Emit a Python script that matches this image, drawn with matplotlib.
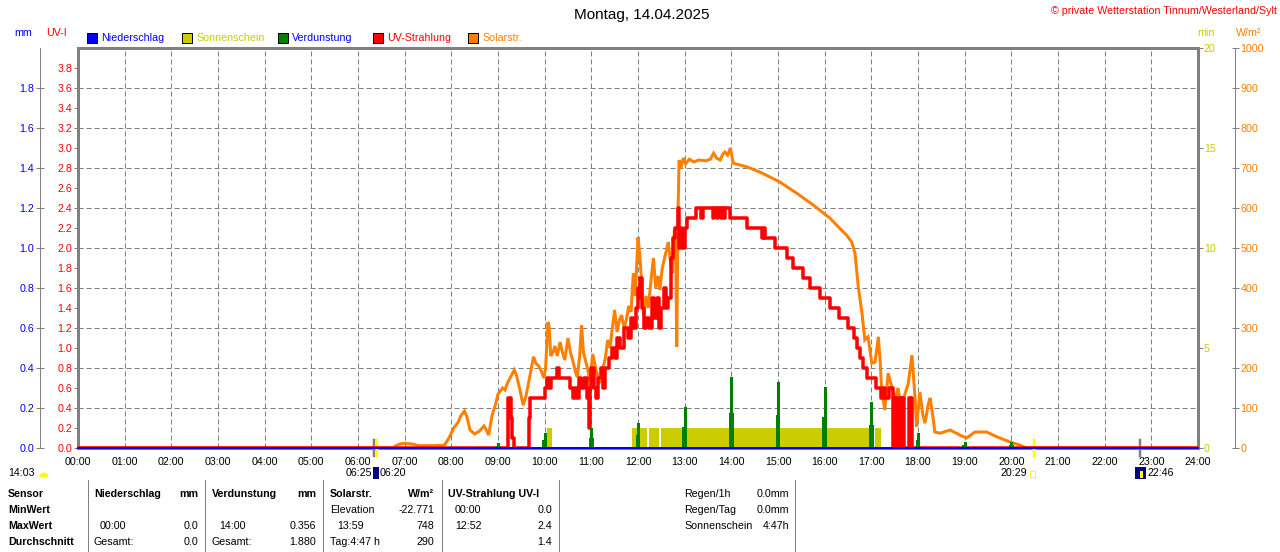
import matplotlib
matplotlib.use('Agg')
import matplotlib.pyplot as plt
from matplotlib.patches import Rectangle, Wedge
from matplotlib.lines import Line2D
from matplotlib.ticker import FixedLocator, FormatStrFormatter

plt.rcParams['font.family'] = ['Liberation Sans', 'DejaVu Sans']
plt.rcParams['lines.scale_dashes'] = False

# ---------------- data ----------------
hours = list(range(0, 25))
hour_labels = ['%02d:00' % h for h in hours]

# UV index (time in hours, UV-I)
uv_t = [0, 9.22, 9.27, 9.31, 9.35, 9.66, 9.69, 10.0, 10.04, 10.1, 10.14, 10.27, 10.31,
        10.55, 10.6, 10.66, 10.7, 10.73, 10.78, 10.85, 10.9, 10.95, 10.97, 11.0, 11.05,
        11.1, 11.15, 11.2, 11.25, 11.3, 11.37, 11.45, 11.5, 11.55, 11.62, 11.7, 11.78,
        11.85, 11.9, 11.95, 12.0, 12.03, 12.05, 12.08, 12.12, 12.18, 12.24, 12.3, 12.34,
        12.4, 12.45, 12.5, 12.55, 12.6, 12.65, 12.7, 12.75, 12.8, 12.85, 12.88, 12.9,
        12.95, 13.0, 13.04, 13.25, 13.35, 13.4, 13.6, 13.62, 13.7, 13.72, 13.78, 13.8,
        13.85, 13.87, 13.97, 14.33, 14.65, 14.7, 14.72, 14.93, 15.19, 15.33, 15.54,
        15.69, 15.9, 16.11, 16.3, 16.5, 16.63, 16.7, 16.75, 16.82, 16.9, 17.1, 17.2,
        17.25, 17.3, 17.38, 17.46, 17.48, 17.5, 17.52, 17.54, 17.56,
        17.6, 17.62, 17.64, 17.66, 17.68, 17.7,
        17.81, 17.83, 17.86, 17.88, 24]
uv_v = [0, 0.5, 0.3, 0.1, 0, 0.3, 0.5, 0.6, 0.7, 0.6, 0.7, 0.8, 0.7,
        0.6, 0.5, 0.6, 0.5, 0.7, 0.6, 0.7, 0.5, 0.2, 0.6, 0.8, 0.6,
        0.5, 0.7, 0.8, 0.6, 0.8, 0.9, 1.0, 0.9, 1.1, 1.0, 1.2, 1.1,
        1.3, 1.2, 1.4, 1.6, 1.5, 1.7, 1.4, 1.2, 1.3, 1.2, 1.5, 1.3,
        1.5, 1.2, 1.4, 1.6, 1.4, 1.5, 1.9, 2.1, 2.2, 2.4, 2.0, 2.2,
        2.0, 2.2, 2.3, 2.4, 2.3, 2.4, 2.3, 2.4, 2.3, 2.4, 2.3, 2.4,
        2.3, 2.4, 2.3, 2.2, 2.1, 2.2, 2.1, 2.0, 1.9, 1.8, 1.7,
        1.6, 1.5, 1.4, 1.3, 1.2, 1.1, 1.0, 0.9, 0.8, 0.7, 0.6, 0.5,
        0.6, 0.5, 0.6, 0.0, 0.5, 0.0, 0.5, 0.0, 0.0,
        0.5, 0.0, 0.5, 0.0, 0.5, 0.0,
        0.5, 0.0, 0.5, 0.0, 0]

# Solar radiation (time in hours, W/m2)
sol_t = [0, 6.75, 6.8, 6.9, 7.0, 7.15, 7.3, 7.6, 7.85, 7.95, 8.05, 8.15, 8.2, 8.28, 8.33,
         8.4, 8.5, 8.6, 8.7, 8.75, 8.8, 8.87, 8.95, 9.0, 9.1, 9.15, 9.2, 9.28, 9.35, 9.4,
         9.47, 9.54, 9.6, 9.65, 9.7, 9.76, 9.82, 9.86, 9.92, 9.98, 10.02, 10.07, 10.1,
         10.13, 10.18, 10.22, 10.27, 10.33, 10.38, 10.43, 10.5, 10.55, 10.61, 10.66, 10.7,
         10.75, 10.79, 10.83, 10.9, 10.97, 11.03, 11.1, 11.19, 11.25, 11.3, 11.35, 11.4,
         11.45, 11.5, 11.55, 11.6, 11.65, 11.7, 11.75, 11.8, 11.85, 11.9, 11.94, 12.0,
         12.04, 12.08, 12.12, 12.17, 12.22, 12.28, 12.33, 12.38, 12.43, 12.47, 12.52,
         12.58, 12.65, 12.7, 12.73, 12.78, 12.81, 12.83, 12.86, 12.88, 12.92, 12.97,
         13.02, 13.1, 13.2, 13.3, 13.45, 13.55, 13.62, 13.68, 13.76, 13.82, 13.86, 13.92,
         13.98, 14.04, 14.33, 14.61, 15.04, 15.4, 15.76, 16.11, 16.3, 16.47, 16.58, 16.65,
         16.72, 16.8, 16.86, 16.93, 17.01, 17.08, 17.15, 17.19, 17.22, 17.29, 17.36, 17.44,
         17.51, 17.57, 17.65, 17.72, 17.79, 17.87, 17.94, 17.97, 18.04, 18.1, 18.15, 18.22,
         18.26, 18.33, 18.36, 18.47, 18.69, 18.9, 19.04, 19.22, 19.47, 19.69, 19.97, 20.19,
         20.33, 24]
sol_v = [0, 0, 5, 10, 12, 10, 6, 6, 7, 25, 50, 65, 80, 92, 80,
         45, 35, 42, 55, 45, 32, 80, 110, 135, 150, 145, 162, 180, 195, 180,
         145, 107, 130, 160, 190, 228, 210, 207, 195, 175, 200, 315, 300,
         230, 240, 255, 230, 265, 240, 220, 275, 240, 215, 190, 177,
         230, 307, 240, 207, 170, 235, 195, 162, 200, 225, 270, 250,
         300, 345, 290, 320, 332, 300, 320, 355, 340, 437, 380, 527,
         480, 412, 330, 380, 350, 420, 475, 400, 430, 395, 450,
         480, 515, 460, 437, 545, 480, 253, 600, 720, 700, 725,
         710, 722, 715, 720, 718, 722, 737, 725, 720, 735, 740, 732,
         750, 712, 703, 690, 665, 637, 607, 575, 552, 532, 515, 487,
         403, 337, 270, 278, 212, 215, 278, 215, 145, 95, 187, 152,
         120, 150, 95, 135, 160, 232, 120, 53, 140, 85, 62, 110,
         125, 70, 40, 37, 45, 32, 25, 40, 40, 28, 15, 7,
         0, 0]

# Sunshine (minutes per minute) intervals
sun_start = [10.05, 11.87, 12.24, 12.49, 17.08]
sun_end = [10.16, 12.19, 12.46, 16.97, 17.21]
sun_value = [1.0, 1.0, 1.0, 1.0, 1.0]

# Evaporation (mm)
verd_t = [9, 10, 11, 12, 13, 14, 15, 16, 17, 18, 19, 20]
verd_v = [0.025, 0.075, 0.10, 0.125, 0.205, 0.356, 0.33, 0.305, 0.23, 0.075, 0.03, 0.03]
verd_low = [0.01, 0.04, 0.05, 0.065, 0.105, 0.175, 0.165, 0.155, 0.115, 0.04, 0.015, 0.015]

# Precipitation (mm)
rain_t = [0, 24]
rain_v = [0.0, 0.0]

# Sun / moon times
sunrise, sunset = 6 + 25/60, 20 + 29/60
moonset, moonrise = 6 + 20/60, 22 + 46/60

uv_ticks = [round(0.2 * i, 1) for i in range(20)]
mm_ticks = [round(0.2 * i, 1) for i in range(10)]
min_ticks = [0, 5, 10, 15, 20]
w_ticks = list(range(0, 1001, 100))

# ---------------- style ----------------
W, H = 1280, 552
GRAY = '#808080'
BLUE = '#0000FF'
RED = '#FF0000'
YEL = '#CCCC00'
ORG = '#FF8000'
GRN = '#008000'
FS = 7.7
PX = 0.72  # points per pixel

fig = plt.figure(figsize=(W / 100, H / 100), dpi=100)
fig.patch.set_facecolor('white')
rect = [78 / W, 104 / H, 1120 / W, 400 / H]

ax_min = fig.add_axes(rect)
ax_w = fig.add_axes(rect, sharex=ax_min)
ax_uv = fig.add_axes(rect, sharex=ax_min)
ax_mm = fig.add_axes(rect, sharex=ax_min)
for a in (ax_w, ax_uv, ax_mm):
    a.patch.set_visible(False)
    for s in a.spines.values():
        s.set_visible(False)
    a.tick_params(axis='x', which='both', bottom=False, labelbottom=False)

ax_min.set_xlim(0, 24)
ax_min.set_ylim(0, 20)
ax_w.set_ylim(0, 1000)
ax_uv.set_ylim(0, 4)
ax_mm.set_ylim(0, 2)

# frame
for s in ax_min.spines.values():
    s.set_color(GRAY)
    s.set_linewidth(3 * PX)

# x axis
ax_min.set_xticks(hours)
ax_min.set_xticklabels(hour_labels, fontsize=FS)
ax_min.tick_params(axis='x', length=0, pad=9 * PX)
ax_min.xaxis.grid(True, color=GRAY, linestyle=(0, (5 * PX, 3 * PX)), linewidth=PX)

# grid horizontal lines (every 2 min == 0.4 UV)
ax_min.yaxis.remove_overlapping_locs = False
ax_min.yaxis.set_minor_locator(FixedLocator(list(range(2, 20, 2))))
ax_min.yaxis.grid(True, which='minor', color=GRAY, linestyle=(0, (5 * PX, 3 * PX)), linewidth=PX)
ax_min.tick_params(axis='y', which='minor', length=0)
ax_min.set_axisbelow(True)

# min axis (right)
ax_min.yaxis.tick_right()
ax_min.set_yticks(min_ticks)
ax_min.tick_params(axis='y', which='major', colors=GRAY, labelcolor=YEL, labelsize=FS,
                   length=5 * PX, width=PX, pad=1 * PX, direction='out')

# W/m2 axis (far right)
ax_w.yaxis.tick_right()
ax_w.spines['right'].set_visible(True)
ax_w.spines['right'].set_position(('outward', 37 * PX))
ax_w.spines['right'].set_color(GRAY)
ax_w.spines['right'].set_linewidth(PX)
ax_w.set_yticks(w_ticks)
ax_w.tick_params(axis='y', colors=GRAY, labelcolor=ORG, labelsize=FS,
                 length=7 * PX, width=PX, pad=2 * PX, direction='inout')

# UV axis (left)
ax_uv.set_yticks(uv_ticks)
ax_uv.yaxis.set_major_formatter(FormatStrFormatter('%.1f'))
ax_uv.tick_params(axis='y', colors=GRAY, labelcolor=RED, labelsize=FS,
                  length=4 * PX, width=PX, pad=2 * PX, direction='out')

# mm axis (far left)
ax_mm.spines['left'].set_visible(True)
ax_mm.spines['left'].set_position(('outward', 38 * PX))
ax_mm.spines['left'].set_color(GRAY)
ax_mm.spines['left'].set_linewidth(PX)
ax_mm.set_yticks(mm_ticks)
ax_mm.yaxis.set_major_formatter(FormatStrFormatter('%.1f'))
ax_mm.tick_params(axis='y', colors=GRAY, labelcolor=BLUE, labelsize=FS,
                  length=8 * PX, width=PX, pad=2 * PX, direction='inout')

# ---------------- data marks ----------------
ax_min.bar(sun_start, sun_value, width=[e - s for s, e in zip(sun_start, sun_end)],
           align='edge', color=YEL, linewidth=0, zorder=2)

ax_w.plot(sol_t, sol_v, color=ORG, linewidth=3 * PX, solid_joinstyle='miter')

ax_uv.plot(uv_t, uv_v, color=RED, linewidth=3.5 * PX, drawstyle='steps-post')

ax_mm.bar(verd_t, verd_low, width=0.1, color=GRN, linewidth=0, zorder=2)
ax_mm.bar([t + 0.01 for t in verd_t], verd_v, width=0.06, color=GRN, linewidth=0, zorder=2)
ax_mm.plot(rain_t, rain_v, color=BLUE, linewidth=2 * PX, clip_on=False, zorder=5)

# sun / moon markers below the axis
for t, c in ((moonset, GRAY), (sunrise, '#FFFF00'), (sunset, '#FFFF00'), (moonrise, GRAY)):
    ax_min.plot([t, t], [-0.4, 0.4], color=c, linewidth=2.5 * PX, clip_on=False, zorder=6)

# ---------------- texts ----------------
T = fig.dpi_scale_trans


def P(x, y):
    return (x / 100, (H - y) / 100)


def txt(x, y, s, ha='left', color='black', size=FS, weight='normal'):
    fig.text(*P(x, y), s, transform=T, ha=ha, va='center', color=color,
             fontsize=size, fontweight=weight)


txt(642, 15, 'Montag, 14.04.2025', ha='center', size=11)
txt(1277, 11, '© private Wetterstation Tinnum/Westerland/Sylt', ha='right', color=RED)
txt(14, 33, 'mm', color=BLUE)
txt(46, 33, 'UV-I', color=RED)
txt(1206, 33, 'min', ha='center', color=YEL)
txt(1249, 33, 'W/m²', ha='center', color=ORG)

legend = [(87, BLUE, 'Niederschlag', BLUE), (182, YEL, 'Sonnenschein', YEL),
          (278, GRN, 'Verdunstung', BLUE), (373, RED, 'UV-Strahlung', RED),
          (468, ORG, 'Solarstr.', ORG)]
for x, fc, lab, tc in legend:
    fig.patches.append(Rectangle(P(x, 43), 0.10, 0.10, transform=T, facecolor=fc,
                                 edgecolor='black', linewidth=PX))
    txt(x + 14, 38, lab, color=tc)

# bottom marker texts
txt(8, 473, '14:03')
fig.patches.append(Wedge(P(44, 477), 0.045, 0, 180, transform=T, facecolor='#FFFF00',
                         edgecolor='none'))
txt(372, 473, '06:25', ha='right')
fig.patches.append(Rectangle(P(373, 479), 0.06, 0.12, transform=T, facecolor='#000080',
                             edgecolor='none'))
txt(380, 473, '06:20')
txt(1027, 473, '20:29', ha='right')
fig.patches.append(Rectangle(P(1030, 477), 0.05, 0.06, transform=T, facecolor='none',
                             edgecolor='#FFFF00', linewidth=PX))
fig.patches.append(Rectangle(P(1135, 479), 0.11, 0.12, transform=T, facecolor='#000080',
                             edgecolor='none'))
fig.patches.append(Rectangle(P(1140, 478), 0.03, 0.07, transform=T, facecolor='#FFFF00',
                             edgecolor='none'))
txt(1147, 473, '22:46')

# table
for x in (88, 205, 323, 442, 559, 795):
    fig.lines.append(Line2D([x / 100, x / 100], [0, (H - 480) / 100], transform=T,
                            color=GRAY, linewidth=PX))

rows = [494, 510, 526, 542]
for y, s in zip(rows, ['Sensor', 'MinWert', 'MaxWert', 'Durchschnitt']):
    txt(8, y, s, weight='bold')

txt(94, 494, 'Niederschlag', weight='bold')
txt(198, 494, 'mm', ha='right', weight='bold')
txt(100, 526, '00:00')
txt(198, 526, '0.0', ha='right')
txt(94, 542, 'Gesamt:')
txt(198, 542, '0.0', ha='right')

txt(212, 494, 'Verdunstung', weight='bold')
txt(316, 494, 'mm', ha='right', weight='bold')
txt(219, 526, '14:00')
txt(316, 526, '0.356', ha='right')
txt(212, 542, 'Gesamt:')
txt(316, 542, '1.880', ha='right')

txt(330, 494, 'Solarstr.', weight='bold')
txt(434, 494, 'W/m²', ha='right', weight='bold')
txt(330, 510, 'Elevation')
txt(434, 510, '-22.771', ha='right')
txt(337, 526, '13:59')
txt(434, 526, '748', ha='right')
txt(330, 542, 'Tag:4:47 h')
txt(434, 542, '290', ha='right')

txt(448, 494, 'UV-Strahlung UV-I', weight='bold')
txt(455, 510, '00:00')
txt(552, 510, '0.0', ha='right')
txt(455, 526, '12:52')
txt(552, 526, '2.4', ha='right')
txt(552, 542, '1.4', ha='right')

txt(684, 494, 'Regen/1h')
txt(789, 494, '0.0mm', ha='right')
txt(684, 510, 'Regen/Tag')
txt(789, 510, '0.0mm', ha='right')
txt(684, 526, 'Sonnenschein')
txt(789, 526, '4:47h', ha='right')

fig.savefig('out.png', dpi=100, facecolor='white')
